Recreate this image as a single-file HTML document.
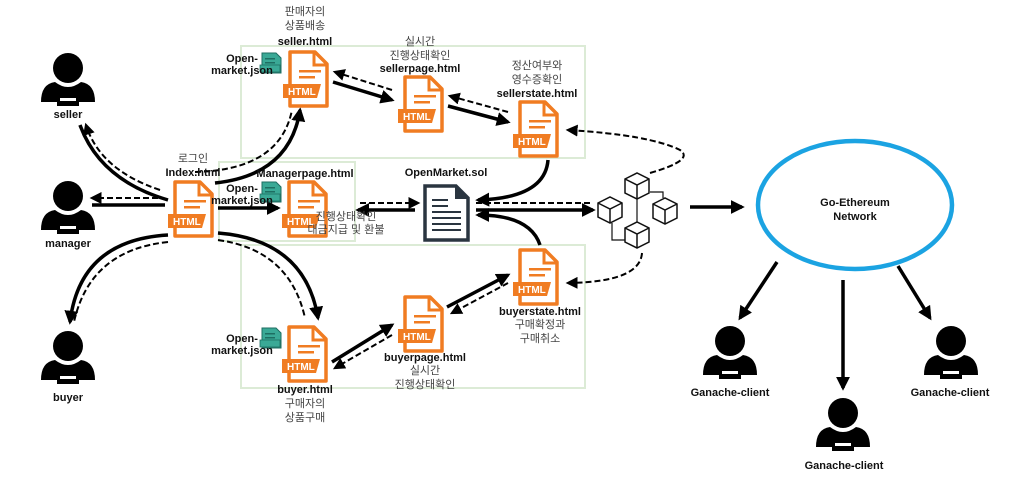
<!DOCTYPE html>
<html><head><meta charset="utf-8"><style>
html,body{margin:0;padding:0;background:#fff;}
svg{display:block;font-family:"Liberation Sans","Noto Sans CJK KR",sans-serif;}
.b{font-weight:bold;font-size:11px;fill:#111;}
.k{font-size:11px;fill:#444;}
</style></head><body>
<svg width="1018" height="481" viewBox="0 0 1018 481" xmlns="http://www.w3.org/2000/svg">
<defs>
<marker id="ah" viewBox="0 0 10 10" refX="8" refY="5" markerWidth="4" markerHeight="4" orient="auto"><path d="M0,0 L10,5 L0,10z" fill="#000"/></marker>
<marker id="ad" viewBox="0 0 10 10" refX="8" refY="5" markerWidth="6" markerHeight="6" orient="auto"><path d="M0,0 L10,5 L0,10z" fill="#000"/></marker>
<g id="doc">
<path d="M5,2 H30 L42,14 V56 H5 Z" fill="#fff" stroke="#f07c22" stroke-width="3.5" stroke-linejoin="round"/>
<path d="M29,2 V15 H42" fill="none" stroke="#f07c22" stroke-width="3"/>
<rect x="14" y="20" width="22" height="2.5" fill="#f07c22"/>
<rect x="14" y="26" width="16" height="2.5" fill="#f07c22"/>
<path d="M-2,34 H36 L32,48 H-2 Z" fill="#f07c22"/>
<text x="3" y="45" font-size="10" font-weight="bold" fill="#fff" font-family="Liberation Sans,sans-serif">HTML</text>
</g>
<g id="person">
<circle cx="27" cy="16" r="15" fill="#000"/>
<path d="M0,50 Q0,32 14,30 Q27,40 40,30 Q54,32 54,50 Z" fill="#000"/>
<rect x="16" y="46" width="22" height="8" fill="#000"/>
<rect x="19" y="46" width="16" height="3" fill="#fff"/>
</g>
<g id="json">
<path d="M2,0 H16 L21,5 V20 H2 Z" fill="#3aa996" stroke="#1e6e62" stroke-width="1"/>
<rect x="5" y="5" width="10" height="1.5" fill="#1e6e62"/>
<rect x="5" y="9" width="10" height="1.5" fill="#1e6e62"/>
<rect x="0" y="12" width="20" height="7" fill="#3aa996" stroke="#1e6e62" stroke-width="0.8"/>
</g>
<g id="cube" fill="#fff" stroke="#111" stroke-width="1.5">
<path d="M0,6 L12,0 L24,6 L24,20 L12,26 L0,20 Z"/>
<path d="M0,6 L12,12 L24,6 M12,12 V26" fill="none"/>
</g>
</defs>

<!-- boxes -->
<rect x="241" y="46" width="344" height="112" fill="none" stroke="#dcebd6" stroke-width="2"/>
<rect x="219" y="162" width="136" height="79" fill="none" stroke="#dcebd6" stroke-width="2"/>
<rect x="241" y="245" width="344" height="143" fill="none" stroke="#dcebd6" stroke-width="2"/>

<!-- persons -->
<use href="#person" x="41" y="52"/>
<text class="b" x="68" y="118" text-anchor="middle">seller</text>
<use href="#person" x="41" y="180"/>
<text class="b" x="68" y="247" text-anchor="middle">manager</text>
<use href="#person" x="41" y="330"/>
<text class="b" x="68" y="401" text-anchor="middle">buyer</text>
<use href="#person" x="703" y="325"/>
<text class="b" x="730" y="396" text-anchor="middle">Ganache-client</text>
<use href="#person" x="816" y="397"/>
<text class="b" x="844" y="469" text-anchor="middle">Ganache-client</text>
<use href="#person" x="924" y="325"/>
<text class="b" x="950" y="396" text-anchor="middle">Ganache-client</text>

<!-- arrows left -->
<g fill="none" stroke="#000">
<path d="M168,200 Q100,180 80,125" stroke-width="3.5"/>
<path d="M160,190 Q100,170 86,125" stroke-width="2" stroke-dasharray="6,3" marker-end="url(#ad)"/>
<path d="M165,205 H92" stroke-width="3.5"/>
<path d="M158,198 H92" stroke-width="2" stroke-dasharray="6,3" marker-end="url(#ad)"/>
<path d="M168,235 Q80,240 70,322" stroke-width="3.5" marker-end="url(#ah)"/>
<path d="M168,242 Q90,250 74,322" stroke-width="2" stroke-dasharray="6,3"/>
<!-- index to seller.html -->
<path d="M215,183 Q290,175 300,110" stroke-width="3.5" marker-end="url(#ah)"/>
<path d="M195,172 Q280,170 292,110" stroke-width="2" stroke-dasharray="6,3"/>
<!-- index to manager -->
<path d="M218,208 H278" stroke-width="3.5" marker-end="url(#ah)"/>
<!-- index to buyer -->
<path d="M218,233 Q305,240 318,318" stroke-width="3.5" marker-end="url(#ah)"/>
<path d="M218,240 Q290,250 305,318" stroke-width="2" stroke-dasharray="6,3"/>
<!-- seller chain -->
<path d="M333,82 L392,100" stroke-width="3.5" marker-end="url(#ah)"/>
<path d="M392,90 L335,72" stroke-width="2" stroke-dasharray="6,3" marker-end="url(#ad)"/>
<path d="M448,106 L508,122" stroke-width="3.5" marker-end="url(#ah)"/>
<path d="M508,112 L450,96" stroke-width="2" stroke-dasharray="6,3" marker-end="url(#ad)"/>
<!-- buyer chain -->
<path d="M332,362 L392,325" stroke-width="3.5" marker-end="url(#ah)"/>
<path d="M392,335 L335,368" stroke-width="2" stroke-dasharray="6,3" marker-end="url(#ad)"/>
<path d="M447,307 L508,275" stroke-width="3.5" marker-end="url(#ah)"/>
<path d="M508,283 L452,313" stroke-width="2" stroke-dasharray="6,3" marker-end="url(#ad)"/>
<!-- sellerstate to sol -->
<path d="M548,160 Q545,198 478,200" stroke-width="3.5" marker-end="url(#ah)"/>
<!-- buyerstate to sol -->
<path d="M540,245 Q530,215 478,215" stroke-width="3.5" marker-end="url(#ah)"/>
<!-- sol <-> manager -->
<path d="M415,210 H358" stroke-width="3.5" marker-end="url(#ah)"/>
<path d="M360,203 H418" stroke-width="2" stroke-dasharray="6,3" marker-end="url(#ad)"/>
<!-- sol to blockchain -->
<path d="M476,210 H593" stroke-width="3.5" marker-end="url(#ah)"/>
<path d="M476,203 H590" stroke-width="2" stroke-dasharray="6,3"/>
<!-- blockchain to sellerstate / buyerstate dashed -->
<path d="M650,173 Q695,160 680,150 Q650,135 568,130" stroke-width="2" stroke-dasharray="6,3" marker-end="url(#ad)"/>
<path d="M642,253 Q640,282 568,283" stroke-width="2" stroke-dasharray="6,3" marker-end="url(#ad)"/>
<!-- blockchain to network -->
<path d="M690,207 H742" stroke-width="3.5" marker-end="url(#ah)"/>
<!-- network to clients -->
<path d="M777,262 L740,318" stroke-width="3.5" marker-end="url(#ah)"/>
<path d="M843,280 V388" stroke-width="3.5" marker-end="url(#ah)"/>
<path d="M898,266 L930,318" stroke-width="3.5" marker-end="url(#ah)"/>
</g>

<!-- docs -->
<use href="#doc" x="170" y="180"/>
<use href="#doc" x="285" y="50"/>
<use href="#doc" x="400" y="75"/>
<use href="#doc" x="515" y="100"/>
<use href="#doc" x="284" y="180"/>
<use href="#doc" x="284" y="325"/>
<use href="#doc" x="400" y="295"/>
<use href="#doc" x="515" y="248"/>

<!-- json icons -->
<use href="#json" x="260" y="53"/>
<use href="#json" x="260" y="182"/>
<use href="#json" x="260" y="328"/>

<!-- sol doc -->
<path d="M425,186 H456 L468,198 V240 H425 Z" fill="#fff" stroke="#2a3540" stroke-width="3.5"/>
<path d="M455,186 V199 H468" fill="#2a3540"/>
<g stroke="#2a3540" stroke-width="2"><path d="M432,200 H448 M432,206 H448 M432,212 H461 M432,218 H461 M432,224 H461 M432,230 H461"/></g>

<!-- blockchain -->
<use href="#cube" x="625" y="173"/>
<use href="#cube" x="598" y="197"/>
<use href="#cube" x="653" y="198"/>
<use href="#cube" x="625" y="222"/>
<path d="M637,199 V222 M650,192 H663 V198 M612,223 V240 H625" fill="none" stroke="#111" stroke-width="1.2"/>

<!-- ellipse -->
<ellipse cx="855" cy="205" rx="97" ry="64" fill="#fff" stroke="#1ba3e2" stroke-width="4.5"/>
<text class="b" x="855" y="206" text-anchor="middle">Go-Ethereum</text>
<text class="b" x="855" y="220" text-anchor="middle">Network</text>

<!-- labels -->
<text class="k" x="305" y="15" text-anchor="middle">판매자의</text>
<text class="k" x="305" y="29" text-anchor="middle">상품배송</text>
<text class="b" x="305" y="45" text-anchor="middle">seller.html</text>
<text class="b" x="242" y="62" text-anchor="middle">Open-</text>
<text class="b" x="242" y="74" text-anchor="middle">market.json</text>

<text class="k" x="420" y="45" text-anchor="middle">실시간</text>
<text class="k" x="420" y="59" text-anchor="middle">진행상태확인</text>
<text class="b" x="420" y="72" text-anchor="middle">sellerpage.html</text>

<text class="k" x="537" y="69" text-anchor="middle">정산여부와</text>
<text class="k" x="537" y="83" text-anchor="middle">영수증확인</text>
<text class="b" x="537" y="97" text-anchor="middle">sellerstate.html</text>

<text class="k" x="193" y="162" text-anchor="middle">로그인</text>
<text class="b" x="193" y="176" text-anchor="middle">Index.html</text>
<text class="b" x="305" y="177" text-anchor="middle">Managerpage.html</text>
<text class="b" x="242" y="192" text-anchor="middle">Open-</text>
<text class="b" x="242" y="204" text-anchor="middle">market.json</text>
<text class="k" x="346" y="220" text-anchor="middle">진행상태확인</text>
<text class="k" x="346" y="233" text-anchor="middle">대금지급 및 환불</text>
<text class="b" x="446" y="176" text-anchor="middle">OpenMarket.sol</text>

<text class="b" x="242" y="342" text-anchor="middle">Open-</text>
<text class="b" x="242" y="354" text-anchor="middle">market.json</text>
<text class="b" x="305" y="393" text-anchor="middle">buyer.html</text>
<text class="k" x="305" y="407" text-anchor="middle">구매자의</text>
<text class="k" x="305" y="421" text-anchor="middle">상품구매</text>

<text class="b" x="425" y="361" text-anchor="middle">buyerpage.html</text>
<text class="k" x="425" y="374" text-anchor="middle">실시간</text>
<text class="k" x="425" y="388" text-anchor="middle">진행상태확인</text>

<text class="b" x="540" y="315" text-anchor="middle">buyerstate.html</text>
<text class="k" x="540" y="328" text-anchor="middle">구매확정과</text>
<text class="k" x="540" y="342" text-anchor="middle">구매취소</text>
</svg>
</body></html>
